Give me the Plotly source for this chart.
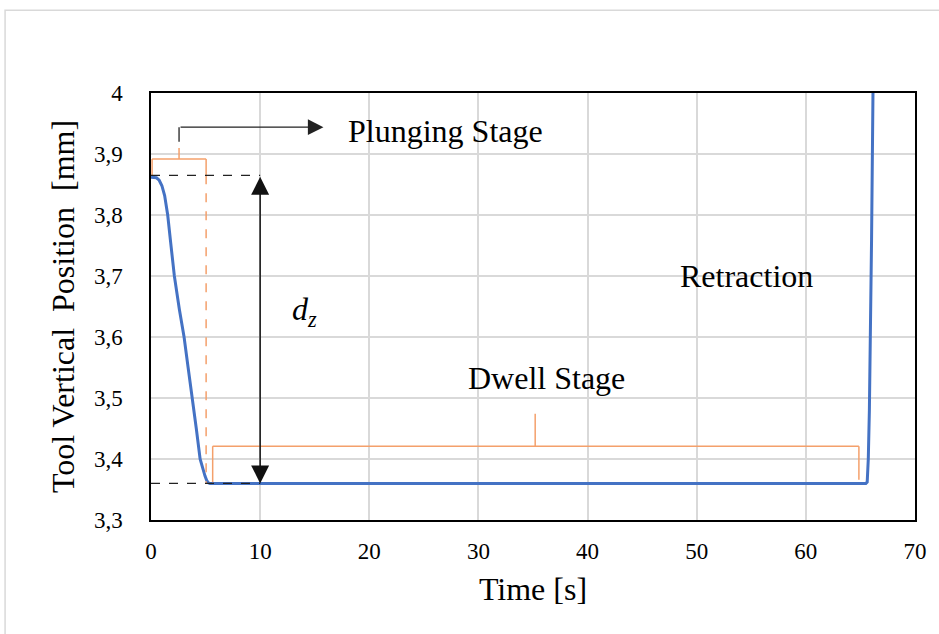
import plotly.graph_objects as go

# Measured tool vertical position over one plunge / dwell / retract cycle
time_s = [0, 0.5, 0.75, 1.0, 1.25, 1.53, 1.8, 2.14, 2.6, 3.03, 3.4, 3.79, 4.15, 4.5,
          4.75, 4.95, 5.1, 5.25, 5.4,
          10, 20, 30, 40, 50, 60, 65.5, 65.62, 65.72, 65.82, 65.92, 66.02, 66.15]
position_mm = [3.862, 3.861, 3.857, 3.848, 3.832, 3.80, 3.755, 3.70, 3.645, 3.60, 3.55,
               3.50, 3.45, 3.40, 3.382, 3.372, 3.365, 3.361, 3.36,
               3.36, 3.36, 3.36, 3.36, 3.36, 3.36, 3.36, 3.362, 3.40, 3.48, 3.60, 3.76, 4.0]

x_ticks = [0, 10, 20, 30, 40, 50, 60, 70]
y_ticks = [3.3, 3.4, 3.5, 3.6, 3.7, 3.8, 3.9, 4.0]

# Stage markers (time in s, position in mm)
start_level = 3.865
dwell_level = 3.36
plunge_end = 5.05
plunge_bracket_y = 3.892
dz_time = 10
dwell_start, dwell_end, dwell_bracket_y = 5.65, 64.86, 3.421

labels = ["Plunging Stage", "Retraction", "Dwell Stage"]
label_x = [27.0, 54.6, 36.2]
label_y = [3.938, 3.70, 3.533]

SERIF = "Liberation Serif"
ORANGE = "#F4A06B"
BLUE = "#4472C4"

fig = go.Figure()
fig.add_trace(go.Scatter(x=time_s, y=position_mm, mode="lines",
                         line=dict(color=BLUE, width=3), showlegend=False))

shapes = []
# outer chart frame
shapes.append(dict(type="rect", xref="paper", yref="paper", x0=-0.191, x1=1.05,
                   y0=-0.3, y1=1.194, line=dict(color="#d9d9d9", width=1.5), layer="below"))

def seg(x0, y0, x1, y1, color, width=1.5, dash="solid"):
    shapes.append(dict(type="line", xref="x", yref="y", x0=x0, y0=y0, x1=x1, y1=y1,
                       line=dict(color=color, width=width, dash=dash)))

# plunging-stage bracket
seg(0.1, plunge_bracket_y, plunge_end, plunge_bracket_y, ORANGE)
seg(0.1, plunge_bracket_y, 0.1, start_level, ORANGE)
seg(plunge_end, plunge_bracket_y, plunge_end, start_level, ORANGE)
seg(plunge_end, start_level, plunge_end, dwell_level, ORANGE, dash="dash")
seg(2.57, plunge_bracket_y, 2.57, 3.910, ORANGE)
seg(2.57, 3.920, 2.57, 3.944, "#222222", width=1.3)

# reference levels for the plunge depth
seg(0, start_level, dz_time, start_level, "#222222", width=1.2, dash="dash")
seg(0, dwell_level, dz_time, dwell_level, "#222222", width=1.2, dash="dash")

# dwell-stage bracket
seg(dwell_start, dwell_bracket_y, dwell_end, dwell_bracket_y, ORANGE)
seg(dwell_start, dwell_bracket_y, dwell_start, dwell_level + 0.002, ORANGE)
seg(dwell_end, dwell_bracket_y, dwell_end, 3.366, ORANGE)
seg(35.2, dwell_bracket_y, 35.2, 3.474, ORANGE)

annotations = []
# arrow pointing to the plunging-stage label
annotations.append(dict(x=15.8, y=3.944, ax=2.57, ay=3.944, xref="x", yref="y",
                        axref="x", ayref="y", text="", showarrow=True, arrowhead=2,
                        arrowsize=2.4, arrowwidth=1.3, arrowcolor="#222222"))
# double arrow for plunge depth d_z
annotations.append(dict(x=dz_time, y=dwell_level, ax=dz_time, ay=start_level, xref="x",
                        yref="y", axref="x", ayref="y", text="", showarrow=True,
                        arrowhead=2, startarrowhead=2, arrowside="end+start",
                        arrowsize=2.4, startarrowsize=2.4, arrowwidth=1.5,
                        arrowcolor="#111111"))
annotations.append(dict(x=14.1, y=3.641, xref="x", yref="y", showarrow=False,
                        text="<i>d</i><sub><i>z</i></sub>",
                        font=dict(family=SERIF, size=32, color="black")))
for txt, lx, ly in zip(labels, label_x, label_y):
    annotations.append(dict(x=lx, y=ly, xref="x", yref="y", text=txt, showarrow=False,
                            font=dict(family=SERIF, size=32, color="black")))

fig.update_layout(
    width=939, height=634,
    margin=dict(l=151, r=24, t=93, b=114),
    paper_bgcolor="white", plot_bgcolor="white",
    separators=",.",
    shapes=shapes, annotations=annotations,
    font=dict(family=SERIF, color="black"),
)
fig.update_xaxes(range=[0, 70], tickvals=x_ticks, showgrid=True, gridcolor="#d9d9d9",
                 gridwidth=1.5, showline=True, mirror=True, linecolor="black", linewidth=1.5,
                 zeroline=False, ticks="", ticklabelstandoff=10,
                 tickfont=dict(family=SERIF, size=23, color="black"),
                 title=dict(text="Time [s]", standoff=14,
                            font=dict(family=SERIF, size=32, color="black")))
fig.update_yaxes(range=[3.3, 4.0], tickvals=y_ticks, showgrid=True, gridcolor="#d9d9d9",
                 gridwidth=1.5, showline=True, mirror=True, linecolor="black", linewidth=1.5,
                 zeroline=False, ticks="", ticklabelstandoff=22,
                 tickfont=dict(family=SERIF, size=23, color="black"),
                 title=dict(text="Tool Vertical\u00a0 Position\u00a0 [mm]", standoff=10,
                            font=dict(family=SERIF, size=32, color="black")))

fig.write_html("out.html")
